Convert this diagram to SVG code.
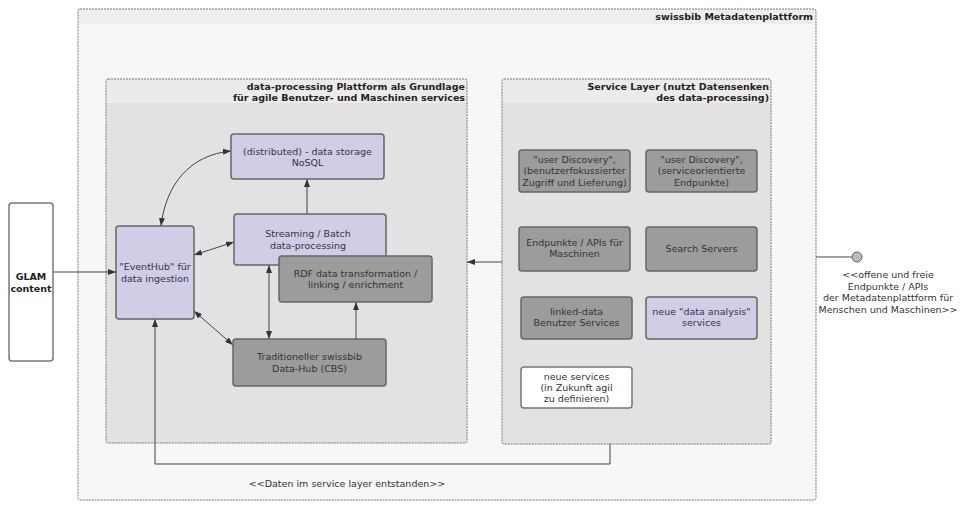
<svg xmlns="http://www.w3.org/2000/svg" width="968" height="506" viewBox="0 0 968 506">
<defs>
<style>
text{font-family:"DejaVu Sans","Liberation Sans",sans-serif;font-size:9.5px;}
.t{text-anchor:middle;fill:#333;}
.tl{text-anchor:middle;fill:#33334d;}
.h{font-weight:bold;text-anchor:end;fill:#222;}
.b{font-weight:bold;text-anchor:middle;fill:#222;}
.frame{stroke:#777;stroke-width:1;stroke-dasharray:2,1;fill:none;}
.lav{fill:#d0cde6;stroke:#666;stroke-width:1.5;}
.gry{fill:#9c9c9c;stroke:#666;stroke-width:1.5;}
.wht{fill:#fff;stroke:#777;stroke-width:1.5;}
.c{stroke:#444;stroke-width:1;fill:none;}
</style>
<marker id="ah" markerWidth="8" markerHeight="6" refX="8" refY="3" orient="auto-start-reverse" markerUnits="userSpaceOnUse">
<path d="M0,0 L8,3 L0,6 z" fill="#333"/>
</marker>
</defs>
<rect width="968" height="506" fill="#fff"/>

<g id="outer">
<rect x="78" y="9" width="738" height="491" fill="#f7f7f7"/>
<rect x="78" y="9" width="738" height="15" fill="#eeeeee"/>
<rect x="78" y="9" width="738" height="491" rx="2" class="frame"/>
<text class="h" x="813" y="20">swissbib Metadatenplattform</text>
</g>

<g id="dataproc">
<rect x="106" y="79" width="361" height="364" fill="#e2e2e2"/>
<rect x="106" y="79" width="361" height="24" fill="#ebebeb"/>
<rect x="106" y="79" width="361" height="364" rx="2" class="frame"/>
<text class="h" x="465" y="89.5">data-processing Plattform als Grundlage</text>
<text class="h" x="465" y="100.5">für agile Benutzer- und Maschinen services</text>
</g>

<g id="servicelayer">
<rect x="502" y="79" width="269" height="365" fill="#e2e2e2"/>
<rect x="502" y="79" width="269" height="24" fill="#ebebeb"/>
<rect x="502" y="79" width="269" height="365" rx="2" class="frame"/>
<text class="h" x="769" y="90">Service Layer (nutzt Datensenken</text>
<text class="h" x="769" y="101">des data-processing)</text>
</g>

<g id="connectors">
<line class="c" x1="53" y1="272" x2="116" y2="272" marker-end="url(#ah)"/>
<path class="c" d="M161,226 C166,184 190,155 231,151" marker-start="url(#ah)" marker-end="url(#ah)"/>
<line class="c" x1="194" y1="255" x2="234" y2="242" marker-start="url(#ah)" marker-end="url(#ah)"/>
<line class="c" x1="307" y1="214" x2="307" y2="179" marker-end="url(#ah)"/>
<line class="c" x1="194" y1="311" x2="233" y2="345" marker-start="url(#ah)" marker-end="url(#ah)"/>
<line class="c" x1="269" y1="265" x2="269" y2="339" marker-start="url(#ah)" marker-end="url(#ah)"/>
<line class="c" x1="356" y1="339" x2="356" y2="302" marker-end="url(#ah)"/>
<line class="c" x1="502" y1="262" x2="467" y2="262" marker-end="url(#ah)"/>
<path class="c" d="M610,444 L610,464 L155,464 L155,319" marker-end="url(#ah)"/>
<line class="c" x1="816" y1="257" x2="852" y2="257"/>
<circle cx="857" cy="257" r="5" fill="#bbb" stroke="#666" stroke-width="1"/>
<text class="t" x="347" y="487">&lt;&lt;Daten im service layer entstanden&gt;&gt;</text>
<text class="t" x="888" y="278">&lt;&lt;offene und freie</text>
<text class="t" x="888" y="290">Endpunkte / APIs</text>
<text class="t" x="888" y="301">der Metadatenplattform für</text>
<text class="t" x="888" y="313">Menschen und Maschinen&gt;&gt;</text>
</g>

<g id="glam">
<rect x="9" y="203" width="44" height="158" rx="3" class="wht"/>
<text class="b" x="31" y="280">GLAM</text>
<text class="b" x="31" y="292">content</text>
</g>

<g id="storage">
<rect x="231" y="134" width="153" height="45" rx="3" class="lav"/>
<text class="tl" x="307.5" y="155">(distributed) - data storage</text>
<text class="tl" x="307.5" y="166">NoSQL</text>
</g>

<g id="eventhub">
<rect x="116" y="226" width="78" height="93" rx="3" class="lav"/>
<text class="tl" x="155" y="270">"EventHub" für</text>
<text class="tl" x="155" y="282">data ingestion</text>
</g>

<g id="streaming">
<rect x="234" y="214" width="152" height="51" rx="3" class="lav"/>
<text class="tl" x="308" y="237">Streaming / Batch</text>
<text class="tl" x="308" y="249">data-processing</text>
</g>

<g id="rdf">
<rect x="279" y="256" width="153" height="46" rx="3" class="gry"/>
<text class="t" x="355.5" y="277">RDF data transformation /</text>
<text class="t" x="355.5" y="288">linking / enrichment</text>
</g>

<g id="trad">
<rect x="233" y="339" width="153" height="47" rx="3" class="gry"/>
<text class="t" x="309.5" y="360">Traditioneller swissbib</text>
<text class="t" x="309.5" y="372">Data-Hub (CBS)</text>
</g>

<g id="userdisc1">
<rect x="519" y="150" width="111" height="42" rx="3" class="gry"/>
<text class="t" x="574.5" y="163">"user Discovery",</text>
<text class="t" x="574.5" y="174">(benutzerfokussierter</text>
<text class="t" x="574.5" y="186">Zugriff und Lieferung)</text>
</g>

<g id="userdisc2">
<rect x="646" y="150" width="111" height="42" rx="3" class="gry"/>
<text class="t" x="701.5" y="163">"user Discovery",</text>
<text class="t" x="701.5" y="174">(serviceorientierte</text>
<text class="t" x="701.5" y="186">Endpunkte)</text>
</g>

<g id="endpunkte">
<rect x="519" y="227" width="111" height="44" rx="3" class="gry"/>
<text class="t" x="574.5" y="246">Endpunkte / APIs für</text>
<text class="t" x="574.5" y="257">Maschinen</text>
</g>

<g id="search">
<rect x="646" y="227" width="111" height="44" rx="3" class="gry"/>
<text class="t" x="701.5" y="252">Search Servers</text>
</g>

<g id="linkeddata">
<rect x="521" y="297" width="111" height="42" rx="3" class="gry"/>
<text class="t" x="576.5" y="315">linked-data</text>
<text class="t" x="576.5" y="326">Benutzer Services</text>
</g>

<g id="dataanalysis">
<rect x="646" y="297" width="111" height="42" rx="3" class="lav"/>
<text class="tl" x="701.5" y="315">neue "data analysis"</text>
<text class="tl" x="701.5" y="326">services</text>
</g>

<g id="neueservices">
<rect x="521" y="367" width="111" height="41" rx="3" class="wht"/>
<text class="t" x="576.5" y="380">neue services</text>
<text class="t" x="576.5" y="391">(in Zukunft agil</text>
<text class="t" x="576.5" y="402">zu definieren)</text>
</g>
</svg>
